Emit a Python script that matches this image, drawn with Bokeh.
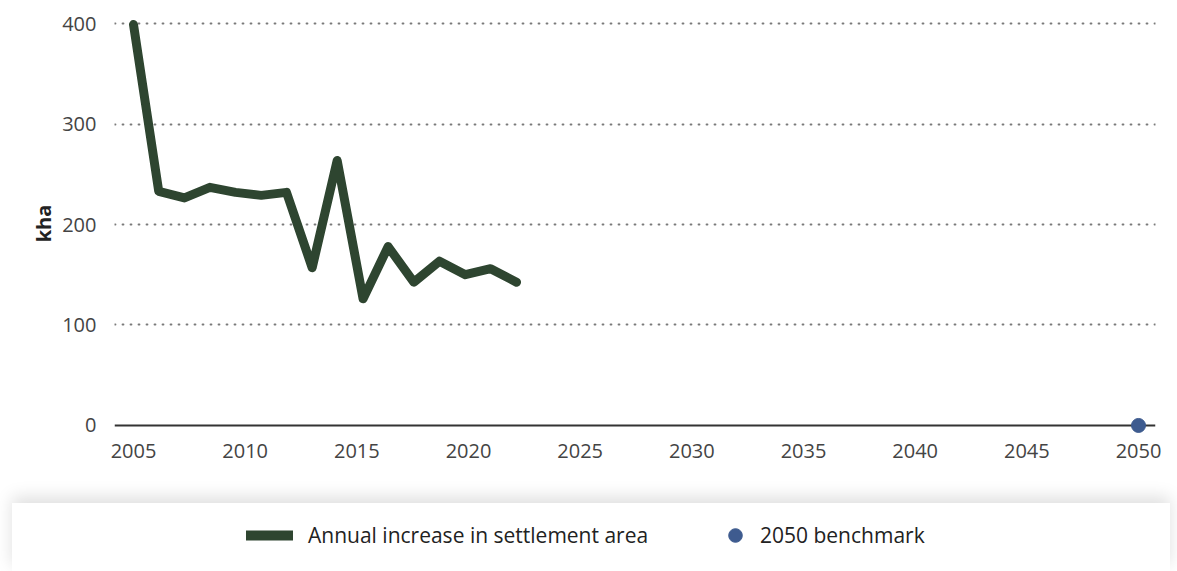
from bokeh.plotting import figure
from bokeh.models import Range1d, FixedTicker, Span, Legend, LegendItem
from bokeh.embed import file_html
from bokeh.resources import INLINE

# ---- data ----
years = [2005.0, 2006.13, 2007.28, 2008.42, 2009.57, 2010.72, 2011.85, 2013.0,
         2014.12, 2015.28, 2016.4, 2017.55, 2018.7, 2019.86, 2020.99, 2022.15]
settlement_kha = [399, 233, 226.5, 237, 232, 229, 232, 157,
                  263.7, 126, 178, 142.6, 163.5, 150, 156, 142.6]
benchmark_year = [2050]
benchmark_kha = [0]
x_ticks = [2005, 2010, 2015, 2020, 2025, 2030, 2035, 2040, 2045, 2050]
y_ticks = [0, 100, 200, 300, 400]
grid_ticks = [100, 200, 300, 400]
series_labels = ["Annual increase in settlement area", "2050 benchmark"]

LINE_COLOR = "#2e4530"
DOT_COLOR = "#3e5b8f"
FONT = "Open Sans"

W, H = 1177, 503
FL, FR, FT, FB = 114, 1155, 13, 433          # frame edges in page px

p = figure(width=W, height=H, output_backend="svg", toolbar_location=None,
           x_range=Range1d(2004.149, 2050.761), y_range=Range1d(-8, 410),
           min_border_left=FL, min_border_right=W - FR, min_border_top=FT,
           min_border_bottom=H - FB)
p.outline_line_color = None
p.background_fill_alpha = 0
p.border_fill_alpha = 0

# axes
p.xaxis.ticker = FixedTicker(ticks=x_ticks)
p.yaxis.ticker = FixedTicker(ticks=y_ticks)
for ax in (p.xaxis[0], p.yaxis[0]):
    ax.axis_line_color = None
    ax.major_tick_line_color = None
    ax.minor_tick_line_color = None
    ax.major_label_text_font = FONT
    ax.major_label_text_font_size = "20px"
    ax.major_label_text_color = "#444444"
p.xaxis.major_label_standoff = 4
p.yaxis.major_label_standoff = 12
p.yaxis.axis_label = "kha"
p.yaxis.axis_label_text_font = FONT
p.yaxis.axis_label_text_font_style = "bold"
p.yaxis.axis_label_text_font_size = "20px"
p.yaxis.axis_label_text_color = "#222222"
p.yaxis.axis_label_standoff = 2

# grid
p.xgrid.grid_line_color = None
p.ygrid.ticker = FixedTicker(ticks=grid_ticks)
p.ygrid.grid_line_color = "#7a7a7a"
p.ygrid.grid_line_width = 1.8
p.ygrid.grid_line_dash = "1 7"
p.ygrid.grid_line_cap = "round"

zero = Span(location=0, dimension="width", line_color="#333333", line_width=2,
            level="underlay")
p.add_layout(zero)

p.line(years, settlement_kha, line_color=LINE_COLOR, line_width=9,
       line_join="round", line_cap="round")
p.scatter(benchmark_year, benchmark_kha, size=14, color=DOT_COLOR)

# ---- legend panel (white card with soft shadow) ----
LW, LH = 1158, 68
lg = figure(width=LW, height=LH, output_backend="svg", toolbar_location=None,
            x_axis_location=None, y_axis_location=None,
            x_range=Range1d(-2, -1), y_range=Range1d(-2, -1),
            min_border=0, min_border_left=0, min_border_right=0,
            min_border_top=0, min_border_bottom=0,
            margin=(0, 0, 0, 12),
            styles={"box-shadow": "0px -6px 16px rgba(0,0,0,0.13)"})
lg.outline_line_color = None
lg.grid.visible = False
lg.background_fill_color = "white"
lg.border_fill_color = "white"

# same series, only used to supply the legend glyphs (off-range here)
l_line = lg.line(years, settlement_kha, line_color=LINE_COLOR, line_width=10,
                 line_cap="round")
l_dot = lg.scatter(benchmark_year, benchmark_kha, color=DOT_COLOR)

common = dict(orientation="horizontal", glyph_height=34, padding=0, margin=0,
              border_line_color=None, background_fill_alpha=0,
              label_text_font=FONT, label_text_font_size="21px",
              label_text_color="#222222")
legend1 = Legend(items=[LegendItem(label=series_labels[0], renderers=[l_line])],
                 location=(246 - 12, 19), glyph_width=47, label_standoff=15,
                 **common)
legend2 = Legend(items=[LegendItem(label=series_labels[1], renderers=[l_dot])],
                 location=(718 - 12, 19), glyph_width=34, label_standoff=8,
                 **common)
lg.add_layout(legend1)
lg.add_layout(legend2)

open("out.html", "w").write(file_html([p, lg], INLINE))
